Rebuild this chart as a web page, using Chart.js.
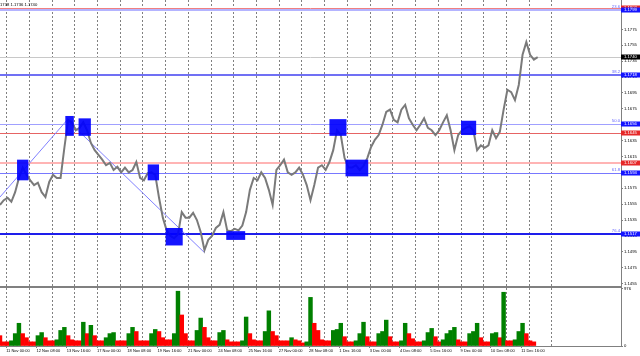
<!DOCTYPE html>
<html lang="en">
<head>
<meta charset="UTF-8">
<title>EURUSD H1</title>
<script src="https://cdn.jsdelivr.net/npm/chart.js"></script>
<style>
  body { margin: 0; background: #fff; }
  canvas { display: block; }
</style>
</head>
<body>
<canvas id="chart" width="640" height="356"></canvas>
<script>
// H1 closes, one sample every 4 bars
const prices = [
  1.1554, 1.1560, 1.1563, 1.1558, 1.1570, 1.1588, 1.1601, 1.1592, 1.1585, 1.1579,
  1.1582, 1.1570, 1.1564, 1.1583, 1.1592, 1.1588, 1.1588, 1.1626, 1.1661, 1.1658,
  1.1648, 1.1651, 1.1658, 1.1648, 1.1632, 1.1623, 1.1617, 1.1611, 1.1604, 1.1607,
  1.1598, 1.1602, 1.1595, 1.1601, 1.1595, 1.1598, 1.1608, 1.1588, 1.1585, 1.1594,
  1.1595, 1.1592, 1.1563, 1.1538, 1.1522, 1.1515, 1.1512, 1.1517, 1.1545, 1.1538,
  1.1538, 1.1544, 1.1535, 1.1520, 1.1497, 1.1510, 1.1515, 1.1525, 1.1529, 1.1545,
  1.1522, 1.1521, 1.1524, 1.1522, 1.1528, 1.1545, 1.1573, 1.1588, 1.1585, 1.1595,
  1.1588, 1.1573, 1.1554, 1.1598, 1.1604, 1.1611, 1.1595, 1.1592, 1.1595, 1.1601,
  1.1592, 1.1579, 1.1560, 1.1579, 1.1601, 1.1604, 1.1598, 1.1608, 1.1623, 1.1648,
  1.1642, 1.1613, 1.1601, 1.1601, 1.1604, 1.1598, 1.1603, 1.1613, 1.1627, 1.1636,
  1.1642, 1.1655, 1.1671, 1.1674, 1.1661, 1.1658, 1.1674, 1.1680, 1.1663, 1.1655,
  1.1648, 1.1655, 1.1663, 1.1651, 1.1648, 1.1642, 1.1648, 1.1658, 1.1667, 1.1648,
  1.1623, 1.1642, 1.1648, 1.1651, 1.1653, 1.1648, 1.1623, 1.1629, 1.1626, 1.1629,
  1.1648, 1.1638, 1.1646, 1.1674, 1.1699, 1.1696, 1.1686, 1.1705, 1.1743, 1.1759,
  1.1743, 1.1737, 1.1740
];

const volumes = [
  177, 71, 71, 89, 212, 389, 212, 142, 71, 71,
  177, 230, 142, 89, 89, 106, 266, 319, 177, 106,
  89, 89, 407, 212, 354, 177, 89, 89, 142, 212,
  230, 89, 89, 89, 212, 319, 248, 89, 89, 89,
  212, 283, 248, 142, 106, 106, 212, 938, 531, 212,
  89, 89, 266, 478, 319, 142, 89, 89, 230, 266,
  106, 71, 71, 71, 89, 496, 212, 106, 89, 89,
  248, 602, 248, 177, 89, 89, 89, 142, 106, 89,
  53, 71, 832, 389, 266, 106, 89, 89, 266, 283,
  389, 159, 71, 71, 89, 212, 407, 159, 71, 71,
  212, 248, 443, 159, 71, 71, 89, 389, 212, 124,
  71, 71, 89, 230, 301, 159, 71, 106, 212, 266,
  319, 106, 71, 71, 212, 248, 389, 142, 71, 71,
  212, 230, 142, 920, 89, 89, 106, 248, 389, 212,
  89, 71
];

const timeLabels = ['11 Nov 00:00', '12 Nov 08:00', '13 Nov 16:00', '17 Nov 00:00', '18 Nov 08:00',
  '19 Nov 16:00', '21 Nov 00:00', '24 Nov 08:00', '25 Nov 16:00', '27 Nov 00:00', '28 Nov 08:00',
  '1 Dec 16:00', '3 Dec 00:00', '4 Dec 08:00', '5 Dec 16:00', '9 Dec 00:00', '10 Dec 08:00', '11 Dec 16:00'];

// horizontal levels (price), fibo tags
const levelPrices = [1.1802, 1.1799, 1.1740, 1.1718, 1.1656, 1.1645, 1.1607, 1.1594, 1.1517];
const levelTags = ['', '23.6', '', '38.2', '50.0', '', '', '61.8', '76.4'];

// zigzag fibo line (bar, price)
const fiboBars = [0, 71, 216];
const fiboPrices = [1.1564, 1.1661, 1.1494];

// blue rectangles (bar from, bar to, high, low)
const boxFrom = [18, 69, 83, 156, 175, 239, 348, 365, 487];
const boxTo = [30, 78, 96, 168, 193, 259, 366, 389, 503];
const boxHigh = [1.1611, 1.1666, 1.1663, 1.1605, 1.1525, 1.1521, 1.1662, 1.1611, 1.1660];
const boxLow = [1.1585, 1.1641, 1.1641, 1.1585, 1.1503, 1.1510, 1.1641, 1.1590, 1.1642];

const header = '1738 1.1736 1.1740';

// styles
const step = 4;
const levelLine = ['#f08080', '#b4b4ff', '#c8c8c8', '#7070f4', '#a0a0ff', '#e66464', '#ffb4b4', '#7878ff', '#1e1eeb'];
const levelWidth = [1, 2, 1, 2, 1, 1, 2, 1, 2];
const levelBg = ['#e62828', '#1414ff', '#000000', '#1414ff', '#1414ff', '#e62828', '#e62828', '#1414ff', '#1414ff'];
const fontX = { size: 4, family: 'Liberation Sans' };
const fontY = { size: 4.2, family: 'Liberation Sans' };

const priceData = prices.map((p, i) => ({ x: i * step, y: p }));
const volData = volumes.map((v, i) => ({ x: i * step, y: v }));
const volColors = volumes.map((v, i) => (i > 0 && v > volumes[i - 1]) ? '#008000' : '#ff0000');
const fiboData = fiboBars.map((b, i) => ({ x: b, y: fiboPrices[i] }));

function trimPad(s) {
  s.paddingTop = 0; s.paddingBottom = 0; s.paddingLeft = 0; s.paddingRight = 0;
}

const overlay = {
  id: 'overlay',
  beforeDatasetsDraw(chart) {
    const { ctx, chartArea: a, scales: { y } } = chart;
    ctx.save();
    levelPrices.forEach((p, i) => {
      const py = Math.round(y.getPixelForValue(p)) + (levelWidth[i] % 2 ? 0.5 : 0);
      ctx.strokeStyle = levelLine[i];
      ctx.lineWidth = levelWidth[i];
      ctx.beginPath();
      ctx.moveTo(a.left, py);
      ctx.lineTo(a.right, py);
      ctx.stroke();
    });
    ctx.restore();
  },
  afterDatasetsDraw(chart) {
    const { ctx, chartArea: a, scales: { x, y, v } } = chart;
    ctx.save();
    ctx.fillStyle = 'rgba(0,0,255,0.92)';
    boxFrom.forEach((b, i) => {
      const x0 = x.getPixelForValue(b), x1 = x.getPixelForValue(boxTo[i]);
      const y0 = y.getPixelForValue(boxHigh[i]), y1 = y.getPixelForValue(boxLow[i]);
      ctx.fillRect(x0, y0, x1 - x0, y1 - y0);
    });
    // panel separator
    ctx.fillStyle = '#808080';
    ctx.fillRect(0, v.top - 1, a.right, 2);
    ctx.restore();
  },
  afterDraw(chart) {
    const { ctx, chartArea: a, scales: { y } } = chart;
    ctx.save();
    ctx.font = '4.2px "Liberation Sans"';
    ctx.textBaseline = 'middle';
    levelPrices.forEach((p, i) => {
      const py = Math.round(y.getPixelForValue(p));
      ctx.fillStyle = levelBg[i];
      ctx.fillRect(a.right, py - 2.5, 19, 5);
      ctx.fillStyle = '#fff';
      ctx.textAlign = 'left';
      ctx.fillText(p.toFixed(4), a.right + 3, py + 0.3);
      if (levelTags[i]) {
        ctx.fillStyle = '#6464ff';
        ctx.textAlign = 'right';
        ctx.textBaseline = 'bottom';
        ctx.fillText(levelTags[i], a.right - 1, py - 1);
        ctx.textBaseline = 'middle';
      }
    });
    ctx.fillStyle = '#000';
    ctx.textAlign = 'left';
    ctx.textBaseline = 'top';
    ctx.fillText(header, 0, 3);
    ctx.restore();
  }
};

new Chart(document.getElementById('chart'), {
  type: 'line',
  data: {
    datasets: [
      { type: 'line', data: priceData, xAxisID: 'x', yAxisID: 'y', borderColor: '#7a7a7a', borderWidth: 2, pointRadius: 0, tension: 0, order: 1 },
      { type: 'line', data: fiboData, xAxisID: 'x', yAxisID: 'y', borderColor: '#8080ff', borderWidth: 1, pointRadius: 0, tension: 0, order: 2 },
      { type: 'bar', data: volData, xAxisID: 'x', yAxisID: 'v', backgroundColor: volColors, borderWidth: 0, barPercentage: 1, categoryPercentage: 1, order: 3 }
    ]
  },
  options: {
    responsive: false,
    animation: false,
    events: [],
    layout: { padding: { top: 0, left: 0, right: 0, bottom: 3.2 } },
    plugins: { legend: { display: false }, tooltip: { enabled: false } },
    scales: {
      x: {
        type: 'linear', position: 'bottom', min: 0, max: 656, offset: false,
        grid: { offset: false, drawOnChartArea: false, drawTicks: true, tickLength: 2, color: '#808080' },
        border: { color: '#808080' },
        ticks: { autoSkip: false, maxRotation: 0, align: 'start', padding: 0, font: fontX, color: '#000',
          callback: (val, i) => timeLabels[i] },
        afterBuildTicks: s => { s.ticks = timeLabels.map((t, k) => ({ value: 6.5 + 32 * k })); },
        afterFit: trimPad
      },
      xg: {
        type: 'linear', position: 'top', min: 0, max: 656, offset: false,
        grid: { offset: false, color: '#808080', lineWidth: 1, drawTicks: false },
        border: { display: false, dash: [2, 2] },
        ticks: { display: false },
        afterBuildTicks: s => { s.ticks = Array.from({ length: 25 }, (_, k) => ({ value: 7 + 24 * k })); },
        afterFit: trimPad
      },
      y: {
        type: 'linear', position: 'right', stack: 'main', stackWeight: 287,
        min: 1.14507, max: 1.18120,
        grid: { drawOnChartArea: false, drawTicks: true, tickLength: 2, color: '#808080' },
        border: { color: '#808080' },
        ticks: { autoSkip: false, padding: 1, font: fontY, color: '#000', callback: val => val.toFixed(4) },
        afterBuildTicks: s => { s.ticks = Array.from({ length: 17 }, (_, k) => ({ value: 1.1455 + 0.002 * k })); },
        afterFit: s => { trimPad(s); s.width = 19; }
      },
      v: {
        type: 'linear', position: 'right', stack: 'main', stackWeight: 59,
        min: 0, max: 1010,
        grid: { drawOnChartArea: false, drawTicks: true, tickLength: 2, color: '#808080' },
        border: { color: '#808080' },
        ticks: { autoSkip: false, padding: 1, font: fontY, color: '#000', callback: val => String(val) },
        afterBuildTicks: s => { s.ticks = [{ value: 0 }, { value: 976 }]; },
        afterFit: s => { trimPad(s); s.width = 19; }
      }
    }
  },
  plugins: [overlay]
});
</script>
</body>
</html>
